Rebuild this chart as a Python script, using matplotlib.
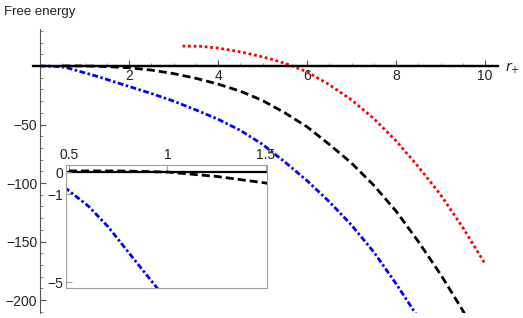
import numpy as np
import matplotlib
matplotlib.use('Agg')
import matplotlib.pyplot as plt
from matplotlib.ticker import FixedLocator, NullFormatter

plt.rcParams['font.family'] = ['Liberation Sans', 'DejaVu Sans']

# red dotted curve
r_red = [3.2, 3.6, 4.0, 4.4, 4.8, 5.2, 5.6, 6.0, 6.5, 7.0, 7.5, 8.0, 8.5, 9.0, 9.5, 10.0]
f_red = [17, 16.8, 15.3, 12.8, 9.6, 5.8, 1.0, -5, -16, -29, -45, -64, -86, -110, -138, -169]

# black dashed curve
r_black = [0.5, 0.75, 1.0, 1.25, 1.5, 2.0, 2.5, 3.0, 3.5, 4.0, 4.5, 5.0, 5.5, 6.0, 6.5,
           7.0, 7.5, 8.0, 8.5, 9.0, 9.5, 9.7]
f_black = [0.05, 0.05, 0.0, -0.2, -0.5, -1.5, -3.5, -6.5, -10.5, -15.5, -21.5, -29.5, -40,
           -52, -67, -83, -102, -124, -150, -178, -209, -222]

# blue dash-dot curve
r_blue = [0.0, 0.25, 0.49, 0.6, 0.7, 0.82, 0.95, 1.25, 1.5, 2.0, 2.5, 3.0, 3.5, 4.0, 4.5,
          5.0, 5.5, 6.0, 6.5, 7.0, 7.5, 8.0, 8.5]
f_blue = [0, -0.2, -0.78, -1.56, -2.5, -3.85, -5.3, -8.5, -11.5, -17.5, -23.5, -30, -37.5,
          -45.5, -55, -67, -82, -98, -116, -136, -159, -186, -215]

main_xticks = [2, 4, 6, 8, 10]
main_yticks = [-50, -100, -150, -200]
inset_xticks = [0.5, 1, 1.5]
inset_yticks = [0, -1, -5]

W, H = 523, 318
fig = plt.figure(figsize=(W / 100, H / 100), dpi=100)

def styled(ax):
    ax.plot(r_red, f_red, color='#ff0000', lw=2, ls=(0, (1.0, 1.0)), dash_capstyle='butt')
    ax.plot(r_black, f_black, color='black', lw=2, ls=(0, (2.9, 1.45)), dash_capstyle='butt')
    ax.plot(r_blue, f_blue, color='#0000ff', lw=2, ls=(0, (2.1, 0.9, 0.9, 0.9)), dash_capstyle='butt')

# main axes
ax = fig.add_axes([33 / W, 1 - 313 / H, 465 / W, 284 / H])
ax.set_xlim(-0.16, 10.29)
ax.set_ylim(-211, 31.6)
styled(ax)
ax.axhline(0, color='black', lw=1.6, zorder=1)

for s in ['top', 'right']:
    ax.spines[s].set_visible(False)
ax.spines['left'].set_position(('data', 0))
ax.spines['bottom'].set_position(('data', 0))
ax.spines['left'].set_color('#555555')
ax.spines['bottom'].set_color('black')
ax.spines['bottom'].set_linewidth(1.6)

ax.xaxis.set_major_locator(FixedLocator(main_xticks))
ax.xaxis.set_minor_locator(FixedLocator(np.arange(0.5, 10.3, 0.5)))
ax.yaxis.set_major_locator(FixedLocator(main_yticks))
ax.yaxis.set_minor_locator(FixedLocator(np.arange(-210, 31, 10)))
ax.xaxis.set_minor_formatter(NullFormatter())
ax.yaxis.set_major_formatter(plt.FuncFormatter(lambda v, p: '\u2212%d' % -v))
ax.tick_params(which='major', direction='in', length=4.5, width=0.8, color='#555555',
               labelsize=10, labelcolor='#222222')
ax.tick_params(which='minor', direction='in', length=2.5, width=0.6, color='#777777')
ax.tick_params(axis='x', which='major', pad=2)
ax.tick_params(axis='y', which='major', pad=2)

fig.text(4 / W, 1 - 12 / H, 'Free energy', fontsize=9.5, color='#222222', va='center', ha='left')
fig.text(505 / W, 1 - 68 / H, r'$r_{+}$', fontsize=10, color='#222222', va='center', ha='left')

# inset
axi = fig.add_axes([66 / W, 1 - 288 / H, 201 / W, 123 / H])
axi.set_facecolor('white')
axi.set_xlim(0.485, 1.505)
axi.set_ylim(-5.27, 0.32)
styled(axi)
axi.axhline(0, color='black', lw=1.6, zorder=1)
for s in axi.spines.values():
    s.set_color('#a0a0a0')
    s.set_linewidth(0.8)
axi.xaxis.tick_top()
axi.xaxis.set_major_locator(FixedLocator(inset_xticks))
axi.yaxis.set_major_locator(FixedLocator(inset_yticks))
axi.xaxis.set_major_formatter(plt.FuncFormatter(lambda v, p: ('%g' % v)))
axi.yaxis.set_major_formatter(plt.FuncFormatter(lambda v, p: ('\u2212%g' % -v) if v < 0 else '0'))
axi.tick_params(direction='in', length=4, width=0.8, color='#a0a0a0',
                labelsize=10, labelcolor='#222222', pad=2)

fig.savefig('out.png', dpi=100)
